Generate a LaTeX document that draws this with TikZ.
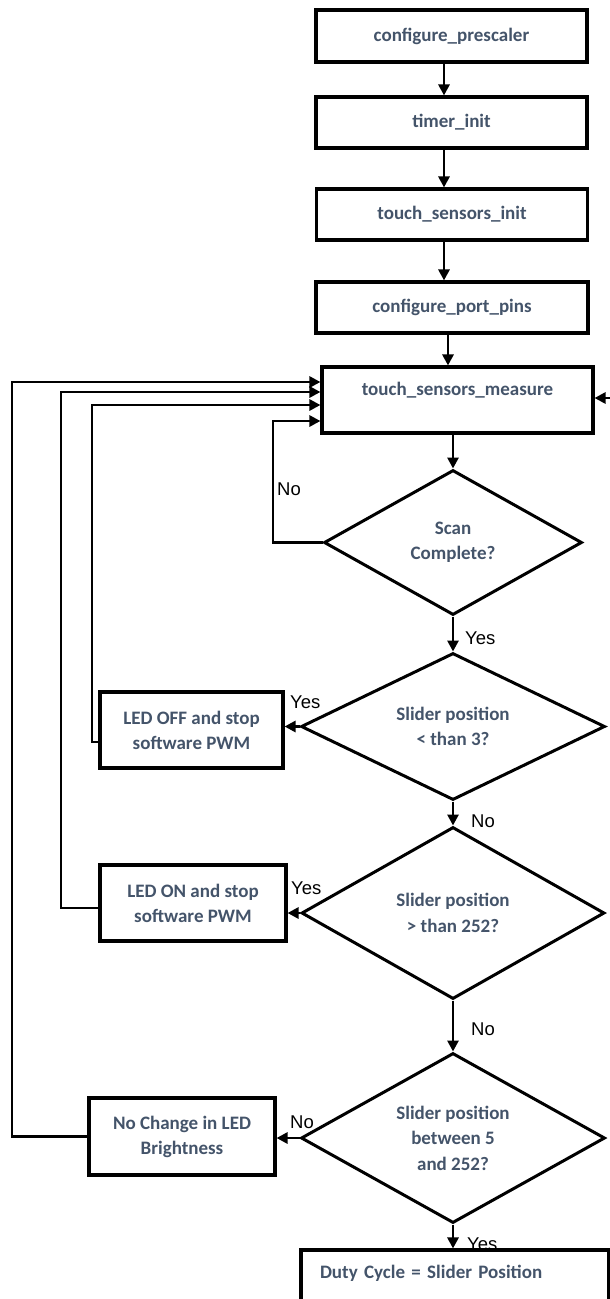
\documentclass[tikz,border=0pt]{standalone}
\usepackage{fontspec}
\setmainfont{Carlito}
\newfontfamily\labfont{Liberation Sans}
\usetikzlibrary{shapes.geometric,arrows.meta}
\definecolor{txt}{HTML}{44546A}
\begin{document}
\begin{tikzpicture}[x=1pt,y=-1pt,
  box/.style={draw, line width=3.1pt, fill=white, text=txt, font=\bfseries\fontsize{19}{25}\selectfont, align=center, inner sep=0pt},
  dec/.style={draw, diamond, aspect=1.8, line width=3pt, fill=white, text=txt, font=\bfseries\fontsize{19}{25.5}\selectfont, align=center, inner sep=0pt},
  arr/.style={line width=2.8pt, -{Triangle[length=11pt,width=11pt]}},
  lab/.style={font=\labfont\fontsize{18.5}{20}\selectfont, inner sep=0pt, anchor=west}]
\clip (0,0) rectangle (610,1299);
\fill[white] (0,0) rectangle (610,1299);

% process boxes
\node[box, minimum width=271pt, minimum height=52pt] (cp) at (451.5,36) {configure\_prescaler};
\node[box, minimum width=271pt, minimum height=51pt] (ti) at (451.5,122.5) {timer\_init};
\node[box, minimum width=271pt, minimum height=51pt] (tsi) at (452,214.5) {touch\_sensors\_init};
\node[box, minimum width=272pt, minimum height=51pt] (cpp) at (452,307.5) {configure\_port\_pins};
\node[box, minimum width=271pt, minimum height=66pt, text height=13pt, text depth=23pt] (tsm) at (457.5,400) {touch\_sensors\_measure};

% decisions
\node[dec, minimum width=258pt, minimum height=145pt] (scan) at (453,542.5) {Scan\\Complete?};
\node[dec, minimum width=304pt, minimum height=147pt] (s3) at (453,726.5) {Slider position\\< than 3?};
\node[dec, minimum width=303pt, minimum height=172pt] (s252) at (453,913) {Slider position\\> than 252?};
\node[dec, minimum width=304pt, minimum height=170pt] (sbw) at (453,1138) {Slider position\\between 5\\and 252?};

% action boxes
\node[box, minimum width=183pt, minimum height=76pt] (off) at (191.5,730) {LED OFF and stop\\software PWM};
\node[box, minimum width=186pt, minimum height=76pt] (on) at (193,903) {LED ON and stop\\software PWM};
\node[box, minimum width=186pt, minimum height=77pt] (nc) at (182,1136.5) {No Change in LED\\Brightness};
\node[box, minimum width=308pt, minimum height=80pt, text width=270pt, align=left, text height=13pt, text depth=37pt] (duty) at (455,1290) {Duty Cycle = Slider Position};

% main flow
\coordinate (c1) at (444,0);
\coordinate (c2) at (448,0);
\draw[arr] (cp.south -| c1) -- (ti.north -| c1);
\draw[arr] (ti.south -| c1) -- (tsi.north -| c1);
\draw[arr] (tsi.south -| c1) -- (cpp.north -| c1);
\draw[arr] (cpp.south -| c2) -- (tsm.north -| c2);
\draw[arr] (tsm.south -| scan.north) -- (scan.north);
\draw[arr] (scan.south) -- (s3.north);
\draw[arr] (s3.south) -- (s252.north);
\draw[arr] (s252.south) -- (sbw.north);
\draw[arr] (sbw.south) -- (duty.north -| sbw.south);

% side branches
\draw[arr] (s3.west) -- (s3.west -| off.east);
\draw[arr] (s252.west) -- (s252.west -| on.east);
\draw[arr] (sbw.west) -- (sbw.west -| nc.east);

% feedback loops
\coordinate (k1) at (273,421);
\coordinate (k2) at (92,405);
\coordinate (k3) at (61,392);
\coordinate (k4) at (12,382);
\coordinate (rin) at (615,398);
\draw[arr] (scan.west) -| (k1) -- (k1 -| tsm.west);
\draw[arr] ([yshift=-12pt]off.west) -| (k2) -- (k2 -| tsm.west);
\draw[arr] ([yshift=-5pt]on.west) -| (k3) -- (k3 -| tsm.west);
\draw[arr] (nc.west) -| (k4) -- (k4 -| tsm.west);
\draw[arr] (rin) -- (rin -| tsm.east);

% labels
\node[lab] (l1) at (277,489) {No};
\node[lab] (l2) at (465,638) {Yes};
\node[lab] (l3) at (290,702) {Yes};
\node[lab] (l4) at (471,821) {No};
\node[lab] (l5) at (291,888) {Yes};
\node[lab] (l6) at (471,1029) {No};
\node[lab] (l7) at (290,1122) {No};
\node[lab] (l8) at (467,1244) {Yes};
\end{tikzpicture}
\end{document}
